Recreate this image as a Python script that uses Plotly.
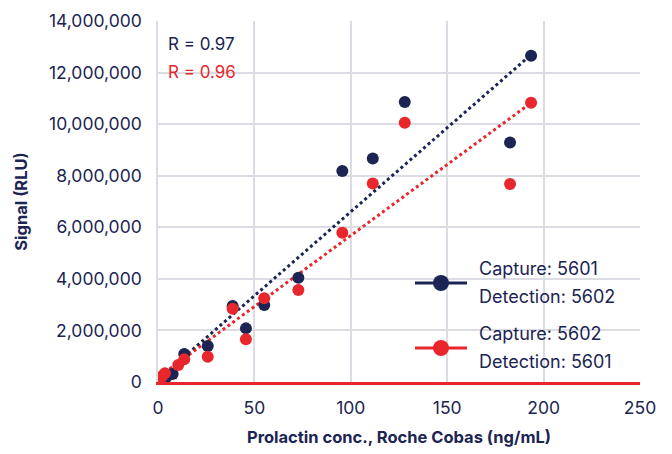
import numpy as np
import plotly.graph_objects as go

NAVY = "#1b2452"
RED = "#e8262c"
GRID = "#dcdce4"

# --- data (ng/mL vs RLU) ---
navy_x = [1.5, 3, 4.5, 7.6, 13.6, 25.8, 38.7, 45.6, 55.1, 72.8, 95.6, 111.4, 128, 182.6, 193.5]
navy_y = [150000, 250000, 200000, 310000, 1090000, 1400000, 2950000, 2080000, 2990000,
          4040000, 8180000, 8670000, 10860000, 9290000, 12650000]
red_x = [1, 2, 3.6, 10.5, 13.6, 25.8, 38.7, 45.6, 55.1, 72.8, 95.6, 111.4, 128, 182.6, 193.5]
red_y = [120000, 210000, 340000, 660000, 880000, 980000, 2840000, 1660000, 3250000,
         3570000, 5790000, 7700000, 10050000, 7680000, 10830000]

r_labels = ["R = 0.97", "R = 0.96"]
legend_lines = [["Capture: 5601", "Detection: 5602"], ["Capture: 5602", "Detection: 5601"]]
x_ticks = [0, 50, 100, 150, 200, 250]
y_ticks = [0, 2000000, 4000000, 6000000, 8000000, 10000000, 12000000, 14000000]

FONT = "Inter"

fig = go.Figure()

def trend(xs, ys):
    k, b = np.polyfit(xs, ys, 1)
    xx = np.array([min(xs), max(xs)])
    return xx, k * xx + b

for xs, ys, col in [(navy_x, navy_y, NAVY), (red_x, red_y, RED)]:
    tx, ty = trend(xs, ys)
    fig.add_trace(go.Scatter(x=tx, y=ty, mode="lines",
                             line=dict(color=col, width=3, dash="dot"),
                             showlegend=False, hoverinfo="skip"))

fig.add_trace(go.Scatter(x=navy_x, y=navy_y, mode="markers",
                         marker=dict(color=NAVY, size=12), showlegend=False))
fig.add_trace(go.Scatter(x=red_x, y=red_y, mode="markers",
                         marker=dict(color=RED, size=12), showlegend=False))

fig.update_layout(
    width=672, height=454,
    margin=dict(l=158, r=32, t=21, b=72),
    paper_bgcolor="white", plot_bgcolor="white",
    font=dict(family=FONT, color=NAVY, size=16),
    xaxis=dict(range=[0, 250], tickvals=x_ticks, showgrid=True, gridcolor=GRID, gridwidth=1.5,
               zeroline=False, showline=True, linecolor=RED, linewidth=3,
               ticks="", ticklabelstandoff=8, automargin=False,
               tickfont=dict(size=17.5),
               title=dict(text="<b>Prolactin conc., Roche Cobas (ng/mL)</b>", font=dict(size=16.5), standoff=15)),
    yaxis=dict(range=[0, 14000000], tickvals=y_ticks, tickformat=",d", showgrid=True,
               gridcolor=GRID, gridwidth=1.5, zeroline=False, showline=True, linecolor=GRID,
               linewidth=1.5, ticks="", ticklabelstandoff=11, automargin=False,
               tickfont=dict(size=17.5),
               title=dict(text="<b>Signal (RLU)</b>", font=dict(size=16.5), standoff=17)),
)

# R annotations
fig.add_annotation(x=0.016, y=0.935, xref="paper", yref="paper", text=r_labels[0],
                   showarrow=False, xanchor="left", yanchor="middle", font=dict(color=NAVY, size=17))
fig.add_annotation(x=0.016, y=0.858, xref="paper", yref="paper", text=r_labels[1],
                   showarrow=False, xanchor="left", yanchor="middle", font=dict(color=RED, size=17))

# custom legend (pixel positions converted to paper coords)
PW, PH, PL, PT = 482, 361, 158, 21
def px(x):
    return (x - PL) / PW
def py(y):
    return 1 - (y - PT) / PH

for (sy, ty1, ty2), col, lines in [((283, 268, 296), NAVY, legend_lines[0]),
                                   ((348, 333, 361), RED, legend_lines[1])]:
    fig.add_shape(type="line", xref="paper", yref="paper", x0=px(415), x1=px(467),
                  y0=py(sy), y1=py(sy), line=dict(color=col, width=3))
    fig.add_shape(type="circle", xref="paper", yref="paper", x0=px(433), x1=px(449),
                  y0=py(sy + 8), y1=py(sy - 8), fillcolor=col, line=dict(color=col, width=0))
    fig.add_annotation(x=px(477), y=py(ty1), xref="paper", yref="paper", text=lines[0],
                       showarrow=False, xanchor="left", yanchor="middle", font=dict(size=18, color=NAVY))
    fig.add_annotation(x=px(477), y=py(ty2), xref="paper", yref="paper", text=lines[1],
                       showarrow=False, xanchor="left", yanchor="middle", font=dict(size=18, color=NAVY))

fig.write_html("out.html", config={"displayModeBar": False},
               post_script="document.body.style.margin='0';")
